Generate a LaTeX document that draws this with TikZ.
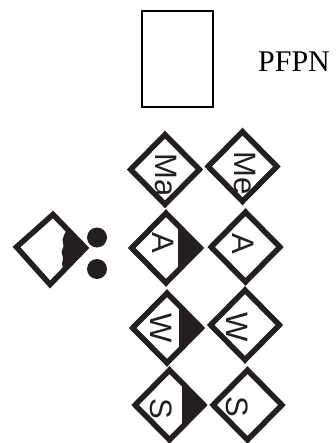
\documentclass[tikz,border=0pt]{standalone}
\usepackage{fontspec}
\setmainfont{Liberation Serif}
\newfontfamily\arialf{Liberation Sans}
\usetikzlibrary{shapes.geometric}
\definecolor{ink}{RGB}{35,31,32}
\begin{document}
\begin{tikzpicture}[x=1pt,y=-1pt,
  dia/.style={diamond, draw=ink, line width=5.5pt, minimum width=71pt, minimum height=72pt, inner sep=0pt},
  half/.style={path picture={\fill[ink] ([xshift=12pt]path picture bounding box.south) rectangle ([xshift=5pt]path picture bounding box.north east);}},
  lbl/.style={font=\arialf\fontsize{31}{31}\selectfont, text=ink, rotate=-90, inner sep=0pt},
  dot/.style={circle, fill=ink, minimum size=20pt, inner sep=0pt},
  ]
\useasboundingbox (0,0) rectangle (336,443);
% top rectangle and label
\node[draw=black, line width=1.2pt, minimum width=71pt, minimum height=96pt, inner sep=0pt] (box) at (177.5,59) {};
\node[anchor=base west, inner sep=0pt, font=\fontsize{30}{30}\selectfont] (pfpn) at (258,72) {PFPN};
% left broken diamond
\coordinate (bl) at (16.5,247);
\coordinate (bt) at (53,214.5);
\coordinate (br) at (85.5,248);
\coordinate (bb) at (50,284.5);
\fill[ink] (68,228) -- (br) -- (64,272) -- (62,264) -- (63,258) -- (61.5,252) -- (63.5,246) -- (62.5,240) -- (64,235) -- cycle;
\draw[ink, line width=5.5pt, line join=miter] (bl) -- (bt) -- (br) -- (bb) -- cycle;
\node[dot] (d1) at (97,237.5) {};
\node[dot] (d2) at (97,269) {};
% diamond grid
\node[dia] (ma) at (165,169.5) {};
\node[dia] (me) at (242.5,166.5) {};
\node[dia, half] (a1) at (166,248) {};
\node[dia] (a2) at (245.5,247) {};
\node[dia, half] (w1) at (167,328) {};
\node[dia] (w2) at (245,325) {};
\node[dia, half] (s1) at (169.5,405) {};
\node[dia] (s2) at (247.5,405) {};
% labels
\node[lbl] (tma) at (166,175) {Ma};
\node[lbl] (tme) at (245,173) {Me};
\node[lbl] (ta1) at (163.5,243) {A};
\node[lbl] (ta2) at (243,244) {A};
\node[lbl] (tw1) at (161.5,328) {W};
\node[lbl] (tw2) at (237,327) {W};
\node[lbl] (ts1) at (161,409) {S};
\node[lbl] (ts2) at (237.5,407) {S};
\end{tikzpicture}
\end{document}
